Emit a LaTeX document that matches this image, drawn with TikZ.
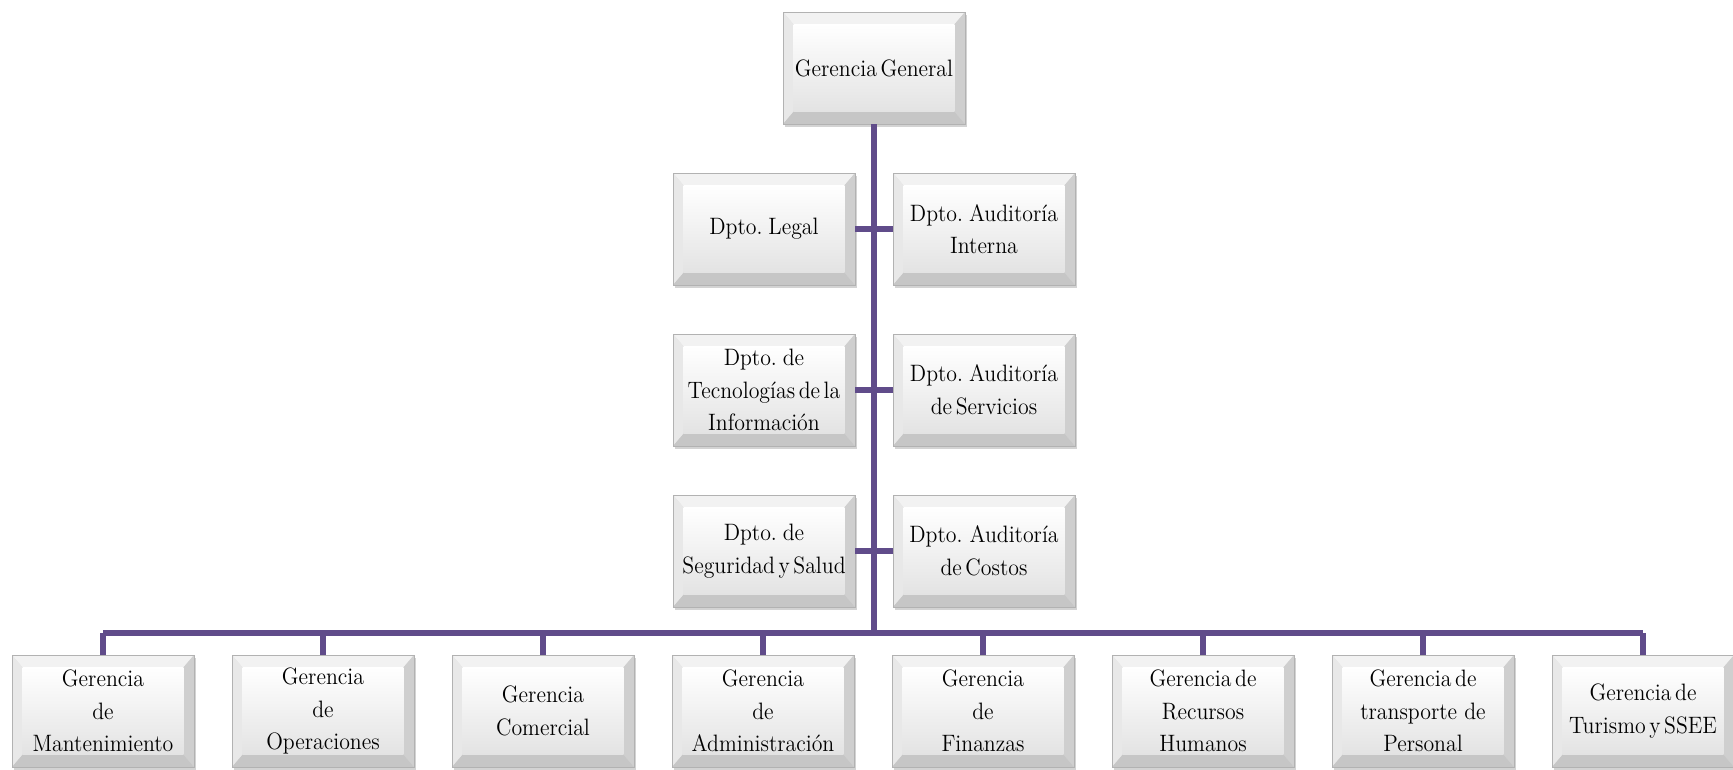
\documentclass[tikz,border=0pt]{standalone}
\usepackage{fontspec}
\setmainfont{Latin Modern Roman}[FakeStretch=0.92, WordSpace=0.5]
\usetikzlibrary{shadows}
\definecolor{orgpurple}{RGB}{96, 76, 138}

\tikzset{
  unitbox/.style={draw=gray!60, line width=0.5pt, fill=gray!25,
    minimum width=3.64cm, minimum height=2.24cm, inner sep=1pt, align=center,
    font=\fontsize{13.5pt}{18.5pt}\selectfont,
    drop shadow={shadow xshift=1.2pt, shadow yshift=-1.6pt, opacity=0.35, fill=gray},
    path picture={
      \coordinate (bsw) at (path picture bounding box.south west);
      \coordinate (bse) at (path picture bounding box.south east);
      \coordinate (bnw) at (path picture bounding box.north west);
      \coordinate (bne) at (path picture bounding box.north east);
      \fill[gray!10] (bnw) -- (bne) -- ([shift={(-6pt,-7pt)}]bne) -- ([shift={(6pt,-7pt)}]bnw) -- cycle;
      \fill[gray!18] (bnw) -- (bsw) -- ([shift={(6pt,7pt)}]bsw) -- ([shift={(6pt,-7pt)}]bnw) -- cycle;
      \fill[gray!38] (bne) -- (bse) -- ([shift={(-6pt,7pt)}]bse) -- ([shift={(-6pt,-7pt)}]bne) -- cycle;
      \fill[gray!45] (bsw) -- (bse) -- ([shift={(-6pt,7pt)}]bse) -- ([shift={(6pt,7pt)}]bsw) -- cycle;
      \shade[top color=white, bottom color=gray!22] ([shift={(6pt,-7pt)}]bnw) rectangle ([shift={(-6pt,7pt)}]bse);
    }},
  orgline/.style={draw=orgpurple, line width=3.4pt}
}

\begin{document}
\begin{tikzpicture}[x=0.02cm, y=0.02cm]
\useasboundingbox (0,0) rectangle (1733,-769);

% direccion
\node[unitbox] (gg) at (874,-68) {Gerencia General};

% departamentos de staff
\node[unitbox] (legal) at (764,-229) {Dpto. Legal};
\node[unitbox] (audint) at (984,-229) {Dpto. Auditoría\\Interna};
\node[unitbox] (tic) at (764,-390) {Dpto. de\\Tecnologías de la\\Información};
\node[unitbox] (audserv) at (984,-390) {Dpto. Auditoría\\de Servicios};
\node[unitbox] (segsal) at (764,-551) {Dpto. de\\Seguridad y Salud};
\node[unitbox] (audcost) at (984,-551) {Dpto.~~Auditoría\\de Costos};

% gerencias de linea
\node[unitbox] (gmant) at (103,-711) {Gerencia\\de\\Mantenimiento};
\node[unitbox] (gope) at (323,-711) {Gerencia\\de\\Operaciones};
\node[unitbox] (gcom) at (543,-711) {Gerencia\\Comercial};
\node[unitbox] (gadm) at (763,-711) {Gerencia\\de\\Administración};
\node[unitbox] (gfin) at (983,-711) {Gerencia\\de\\Finanzas};
\node[unitbox] (grh) at (1203,-711) {Gerencia de\\Recursos\\Humanos};
\node[unitbox] (gtrans) at (1423,-711) {Gerencia de\\transporte~~de\\Personal};
\node[unitbox] (gtur) at (1643,-711) {Gerencia de\\Turismo y SSEE};

\coordinate (bus) at (874,-633);

% conectores
\draw[orgline] (gg.south) -- (bus);
\draw[orgline] (legal.east) -- (audint.west);
\draw[orgline] (tic.east) -- (audserv.west);
\draw[orgline] (segsal.east) -- (audcost.west);
\draw[orgline] (gmant.north |- bus) -- (gtur.north |- bus);
\foreach \g in {gmant,gope,gcom,gadm,gfin,grh,gtrans,gtur}
  \draw[orgline] (\g.north |- bus) -- (\g.north);
\end{tikzpicture}
\end{document}
